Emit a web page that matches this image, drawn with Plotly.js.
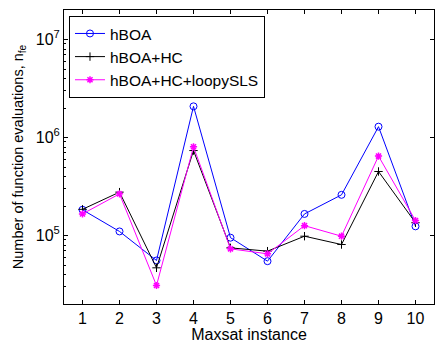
<!DOCTYPE html>
<html>
<head>
<meta charset="utf-8">
<script src="https://cdn.plot.ly/plotly-3.0.1.min.js"></script>
<style>html,body{margin:0;padding:0;background:#fff;}</style>
</head>
<body>
<div id="chart" style="width:435px;height:343px;"></div>
<script>
const instances = [1, 2, 3, 4, 5, 6, 7, 8, 9, 10];
const hboa = [183000, 110000, 55600, 2080000, 95000, 54700, 166000, 260000, 1290000, 124000];
const hboaHC = [185000, 277000, 46800, 736000, 74800, 69200, 98400, 80900, 450000, 135000];
const hboaHCLoopy = [166000, 266000, 30900, 804000, 73100, 65000, 126000, 98400, 646000, 142000];
const seriesNames = ['hBOA', 'hBOA+HC', 'hBOA+HC+loopySLS'];
const yTickVals = [1e5, 1e6, 1e7];
const yTickText = ['10<sup>5</sup>', '10<sup>6</sup>', '10<sup>7</sup>'];

const fam = '"Liberation Sans", Arial, Helvetica, sans-serif';
const font = {family: fam, size: 16, color: '#000'};

const traces = [
  {x: instances, y: hboa, name: seriesNames[0], mode: 'lines+markers',
   line: {color: '#0000ff', width: 1},
   marker: {symbol: 'circle-open', size: 7, color: '#0000ff', line: {width: 1}}},
  {x: instances, y: hboaHC, name: seriesNames[1], mode: 'lines+markers',
   line: {color: '#000000', width: 1},
   marker: {symbol: 'cross-thin-open', size: 6, color: '#000000', line: {width: 1}}},
  {x: instances, y: hboaHCLoopy, name: seriesNames[2], mode: 'lines+markers',
   line: {color: '#ff00ff', width: 1},
   marker: {symbol: 'asterisk-open', size: 6, color: '#ff00ff', line: {width: 1.5, color: '#ff00ff'}}},
  {x: instances, y: hboa, yaxis: 'y2', mode: 'markers', showlegend: false, hoverinfo: 'skip',
   marker: {opacity: 0}}
];

const yr = [Math.log10(2e4), Math.log10(2e7)];

const layout = {
  width: 435, height: 343,
  margin: {l: 64, r: 1, t: 10, b: 39},
  paper_bgcolor: '#fff', plot_bgcolor: '#fff',
  font: font,
  showlegend: true,
  legend: {x: 0.0135, y: 0.98, xanchor: 'left', yanchor: 'top',
           bgcolor: '#fff', bordercolor: '#000', borderwidth: 1,
           font: {family: fam, size: 15.5, color: '#000'}, tracegroupgap: 0},
  xaxis: {range: [0.5, 10.5], tickvals: instances, ticktext: instances.map(String),
          ticks: 'inside', ticklen: 4, tickcolor: '#000',
          showline: true, linecolor: '#000', linewidth: 1, mirror: 'ticks',
          showgrid: false, zeroline: false,
          title: {text: 'Maxsat instance', font: font, standoff: 0}},
  yaxis: {type: 'log', range: yr, tickvals: yTickVals, ticktext: yTickText,
          ticks: 'inside', ticklen: 4, tickcolor: '#000',
          showline: true, linecolor: '#000', linewidth: 1, mirror: true,
          showgrid: false, zeroline: false,
          minor: {ticks: 'inside', ticklen: 2, tickcolor: '#000', dtick: 'D1', showgrid: false},
          title: {text: 'Number of function evaluations, n<sub>fe</sub>',
                  font: {family: fam, size: 14.5, color: '#000'}, standoff: 8}},
  yaxis2: {type: 'log', range: yr, tickvals: yTickVals, overlaying: 'y', side: 'right',
           ticks: 'inside', ticklen: 4, tickcolor: '#000', showticklabels: false,
           showline: true, linecolor: '#000', showgrid: false, zeroline: false}
};

Plotly.newPlot('chart', traces, layout, {displayModeBar: false, staticPlot: true});
</script>
</body>
</html>
